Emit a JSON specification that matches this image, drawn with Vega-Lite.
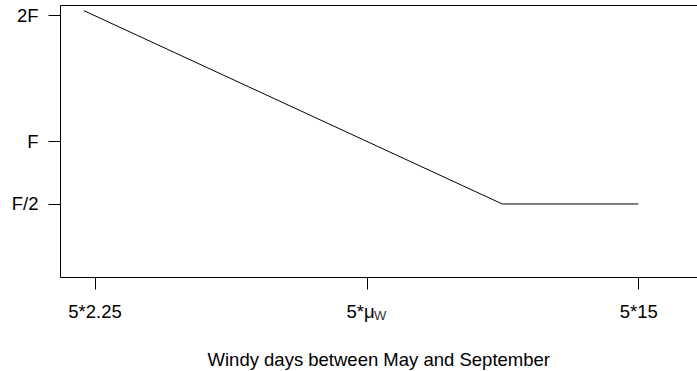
{
  "$schema": "https://vega.github.io/schema/vega-lite/v6.json",
  "width": 636.5,
  "height": 272,
  "autosize": {"type": "none"},
  "padding": {"left": 60, "top": 5, "right": 0, "bottom": 94},
  "background": "white",
  "config": {
    "view": {"stroke": null},
    "font": "Liberation Sans",
    "axis": {
      "grid": false,
      "domainColor": "black",
      "tickColor": "black",
      "labelColor": "black",
      "titleColor": "black",
      "labelFont": "Liberation Sans",
      "titleFont": "Liberation Sans",
      "labelFontSize": 18.5,
      "titleFontSize": 18.5,
      "titleFontWeight": "normal",
      "tickSize": 12,
      "domainWidth": 1,
      "tickWidth": 1
    }
  },
  "data": {
    "values": [
      {"days": 10, "cost": 2.035},
      {"days": 59.05, "cost": 0.5},
      {"days": 75, "cost": 0.5}
    ]
  },
  "resolve": {"axis": {"x": "independent"}},
  "layer": [
    {
      "mark": {"type": "line", "color": "black", "strokeWidth": 1, "clip": false},
      "encoding": {
        "x": {
          "field": "days",
          "type": "quantitative",
          "scale": {"domain": [7.2, 81.83], "nice": false, "zero": false},
          "axis": {
            "orient": "bottom",
            "values": [11.25, 43.2, 75],
            "labelExpr": "datum.value == 11.25 ? '5*2.25' : datum.value == 75 ? '5*15' : '5*μ'",
            "labelOffset": {"condition": {"test": "datum.value == 43.2", "value": -7}, "value": 0},
            "labelPadding": 13,
            "labelOverlap": false,
            "labelBound": false,
            "labelFlush": false,
            "title": "Windy days between May and September",
            "titleY": 88,
            "titleBaseline": "alphabetic"
          }
        },
        "y": {
          "field": "cost",
          "type": "quantitative",
          "scale": {"domain": [-0.08, 2.08], "nice": false, "zero": false},
          "axis": {
            "values": [0.5, 1, 2],
            "labelExpr": "datum.value == 2 ? '2F' : datum.value == 1 ? 'F' : 'F/2'",
            "labelPadding": 10,
            "labelOverlap": false,
            "labelBound": false,
            "labelFlush": false,
            "title": null
          }
        }
      }
    },
    {
      "mark": {"type": "line", "opacity": 0},
      "encoding": {
        "x": {
          "field": "days",
          "type": "quantitative",
          "axis": {"orient": "top", "labels": false, "ticks": false, "title": null, "domain": true}
        },
        "y": {
          "field": "cost",
          "type": "quantitative",
          "axis": {
            "values": [0.5, 1, 2],
            "labelExpr": "datum.value == 2 ? '2F' : datum.value == 1 ? 'F' : 'F/2'",
            "labelPadding": 10,
            "labelOverlap": false,
            "labelBound": false,
            "labelFlush": false,
            "title": null
          }
        }
      }
    },
    {
      "data": {"values": [{"days": 43.2, "sub": "W"}]},
      "mark": {"type": "text", "align": "left", "baseline": "alphabetic", "dx": 7, "dy": 43, "fontSize": 13, "font": "Liberation Sans", "color": "#333333"},
      "encoding": {
        "x": {"field": "days", "type": "quantitative", "axis": null},
        "y": {"datum": -0.08},
        "text": {"field": "sub"}
      }
    }
  ]
}
